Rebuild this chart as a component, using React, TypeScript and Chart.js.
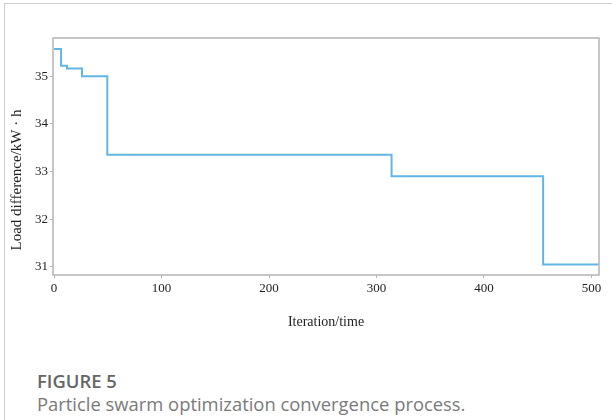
import React, { useEffect, useRef } from "react";
import { Chart, registerables } from "chart.js";

Chart.register(...registerables);

const iterations = [0, 6.5, 12, 26, 49.5, 314, 455, 507];
const loadDiff = [35.57, 35.22, 35.16, 35.0, 33.35, 32.9, 31.05, 31.05];
const xTicks = [0, 100, 200, 300, 400, 500];
const yTicks = [31, 32, 33, 34, 35];
const yTitle = "Load difference/kW · h";
const xTitle = "Iteration/time";

const SERIF = "'Liberation Serif', 'Times New Roman', serif";

const framePlugin = {
  id: "frame",
  afterDraw(chart: any) {
    const { ctx, chartArea } = chart;
    ctx.save();
    ctx.strokeStyle = "#b4b4b4";
    ctx.lineWidth = 1.5;
    ctx.strokeRect(chartArea.left, chartArea.top, chartArea.right - chartArea.left, chartArea.bottom - chartArea.top);
    ctx.fillStyle = "#222";
    ctx.font = `15px ${SERIF}`;
    ctx.textAlign = "center";
    ctx.textBaseline = "middle";
    ctx.translate(17, 180);
    ctx.rotate(-Math.PI / 2);
    ctx.fillText(yTitle, 0, 0);
    ctx.restore();
  },
};

export default function App() {
  const ref = useRef<HTMLCanvasElement>(null);
  useEffect(() => {
    Chart.defaults.font.family = SERIF;
    const chart = new Chart(ref.current!, {
      type: "line",
      data: {
        datasets: [
          {
            data: iterations.map((x, i) => ({ x, y: loadDiff[i] })),
            borderColor: "#62b6e4",
            borderWidth: 2,
            pointRadius: 0,
            stepped: true,
            fill: false,
          },
        ],
      },
      options: {
        animation: false,
        responsive: false,
        maintainAspectRatio: false,
        layout: { padding: { left: 0, right: 13, top: 38, bottom: 0 } },
        plugins: { legend: { display: false }, tooltip: { enabled: false } },
        scales: {
          x: {
            type: "linear",
            min: -1,
            max: 507,
            afterBuildTicks: (s: any) => {
              s.ticks = xTicks.map((v) => ({ value: v }));
            },
            afterFit: (s: any) => {
              s.height = 60;
            },
            grid: { display: true, drawOnChartArea: false, tickLength: 3, color: "#b4b4b4" },
            border: { display: false },
            ticks: {
              color: "#222",
              font: { family: SERIF, size: 13 },
              padding: 3,
              maxRotation: 0,
            },
            title: {
              display: true,
              text: xTitle,
              color: "#222",
              font: { family: SERIF, size: 14 },
              padding: { top: 9 },
            },
          },
          y: {
            type: "linear",
            min: 30.83,
            max: 35.8,
            afterBuildTicks: (s: any) => {
              s.ticks = yTicks.map((v) => ({ value: v }));
            },
            afterFit: (s: any) => {
              s.width = 53;
            },
            grid: { display: true, drawOnChartArea: false, tickLength: 3, color: "#b4b4b4" },
            border: { display: false },
            ticks: {
              color: "#222",
              font: { family: SERIF, size: 13 },
              padding: 2,
            },
            title: { display: false },
          },
        },
      },
      plugins: [framePlugin],
    });
    return () => chart.destroy();
  }, []);

  return (
    <div
      style={{
        position: "fixed",
        left: 0,
        top: 0,
        width: 612,
        height: 420,
        background: "#fff",
        overflow: "hidden",
      }}
    >
      <div
        style={{
          position: "absolute",
          left: 4,
          top: 3,
          width: 620,
          height: 430,
          borderLeft: "1px solid #cfcfcf",
          borderTop: "1px solid #cfcfcf",
        }}
      />
      <canvas ref={ref} width={612} height={335} style={{ position: "absolute", left: 0, top: 0 }} />
      <div
        style={{
          position: "absolute",
          left: 37,
          top: 369,
          fontFamily: "'Open Sans', sans-serif",
          fontWeight: 600,
          fontSize: 18.4,
          color: "#666",
          lineHeight: "24px",
          whiteSpace: "nowrap",
        }}
      >
        FIGURE 5
      </div>
      <div
        style={{
          position: "absolute",
          left: 37,
          top: 392,
          fontFamily: "'Open Sans', sans-serif",
          fontSize: 18.4,
          color: "#7a7a7a",
          lineHeight: "24px",
          whiteSpace: "nowrap",
        }}
      >
        Particle swarm optimization convergence process.
      </div>
    </div>
  );
}
